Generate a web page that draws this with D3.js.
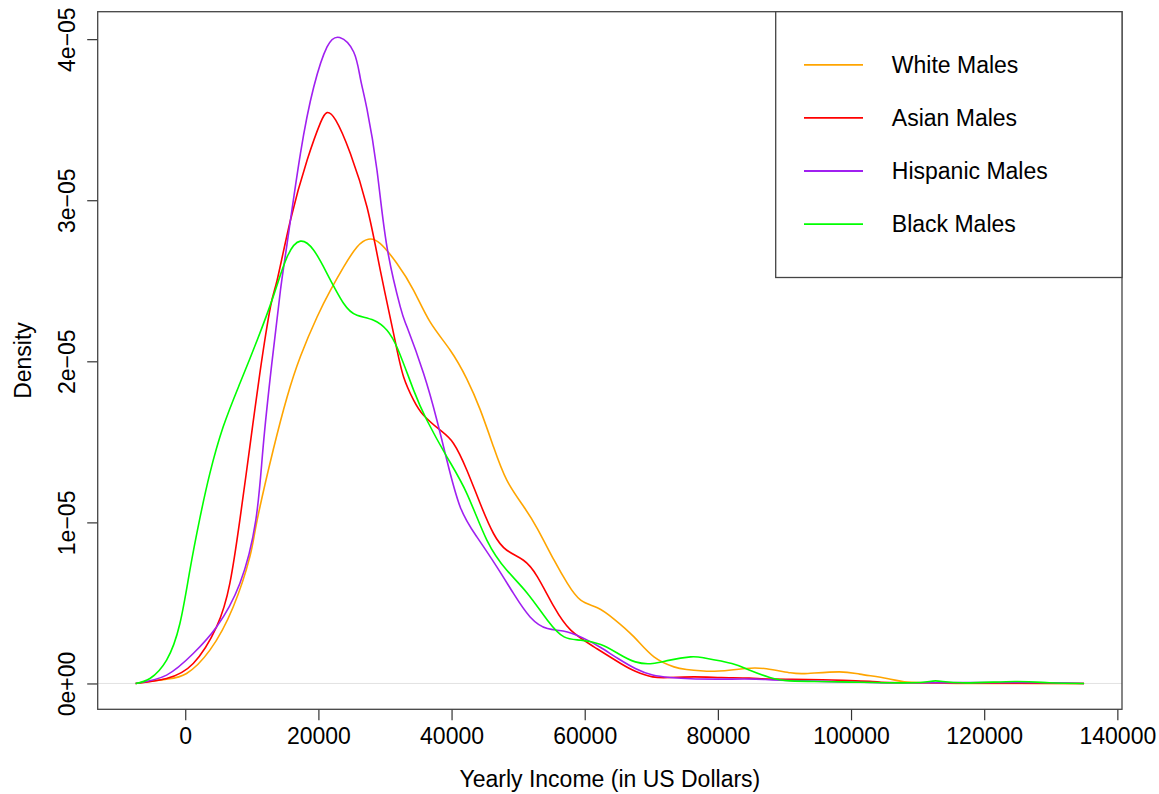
<!DOCTYPE html>
<html>

<head>
    <title>Income density by group</title>
    <style>
        body {
            margin: 0;
            background: #fff;
        }

        text {
            font-family: "Liberation Sans", Arial, Helvetica, sans-serif;
            fill: #000;
        }
    </style>
    <script src="https://d3js.org/d3.v7.min.js"></script>
</head>

<body>
    <script>
        // density values are in units of 1e-06
        const UNIT = 1e-6;

        const seriesNames = ["White Males", "Asian Males", "Hispanic Males", "Black Males"];
        const seriesColors = ["#FFA500", "#FF0000", "#A020F0", "#00FF00"];

        const xTicks = [0, 20000, 40000, 60000, 80000, 100000, 120000, 140000];
        const yTicks = [0, 10, 20, 30, 40];
        const yTickLabels = ["0e+00", "1e\u221205", "2e\u221205", "3e\u221205", "4e\u221205"];

        // [income, density / 1e-06]
        const white = [
            [-7450, 0], [-2800, 0.27], [200, 0.62], [3700, 2.07], [7200, 4.75], [9700, 7.86],
            [10800, 10.14], [13200, 14.48], [15300, 17.79], [17300, 20.3], [19800, 22.75],
            [21800, 24.4], [23800, 25.86], [25800, 27.1], [27500, 27.58], [29300, 27.31],
            [31800, 26.07], [34300, 24.41], [36800, 22.43], [39800, 20.69], [42300, 18.9],
            [44300, 17.0], [46300, 14.69], [48300, 12.62], [50800, 11.0], [52900, 9.6],
            [55400, 7.65], [57400, 6.21], [59400, 5.17], [61900, 4.7], [64400, 4.0],
            [67400, 2.89], [70400, 1.65], [73400, 1.03], [75300, 0.87], [79500, 0.76],
            [84200, 0.93], [87300, 0.91], [90900, 0.66], [93500, 0.62], [98200, 0.72],
            [101300, 0.58], [105400, 0.31], [108000, 0.1], [111600, 0.04], [119400, 0],
            [135000, 0]
        ];

        const asian = [
            [-7450, 0], [-2800, 0.31], [1200, 1.24], [4700, 3.51], [6700, 6.21], [8200, 10.14],
            [9700, 14.69], [11200, 19.24], [12800, 23.38], [13800, 25.03], [15800, 28.76],
            [18300, 32.48], [20300, 34.8], [21300, 35.44], [22600, 34.97], [24800, 32.9],
            [27300, 29.58], [29300, 25.65], [31500, 21.31], [32800, 19.03], [34300, 17.59],
            [35800, 16.65], [38300, 15.72], [40300, 14.9], [42300, 13.24], [44300, 11.17],
            [46300, 9.31], [48300, 8.27], [50800, 7.65], [52900, 6.62], [55400, 4.75],
            [57900, 3.31], [61400, 2.27], [65400, 1.24], [67600, 0.76], [70200, 0.41],
            [72800, 0.37], [76400, 0.41], [80500, 0.37], [84700, 0.33], [88300, 0.27],
            [93500, 0.25], [98700, 0.19], [103900, 0.1], [109000, 0.04], [135000, 0]
        ];

        const hispanic = [
            [-7450, 0], [-2800, 0.52], [1200, 1.86], [4700, 3.51], [8200, 6.21], [10600, 10.14],
            [11700, 14.69], [13000, 19.86], [14300, 24.41], [15300, 27.31],
            [17300, 32.9], [19300, 37.03], [21300, 39.52], [23200, 40.1],
            [25300, 39.2], [26300, 37.57], [27300, 35.65], [28800, 31.86], [30300, 27.1],
            [32300, 23.38], [33300, 22.14], [35800, 19.24], [37800, 16.34], [39300, 13.86],
            [41300, 10.96], [43800, 9.1], [46800, 7.24], [49300, 5.59], [51800, 4.13],
            [54400, 3.41], [57400, 3.2], [60400, 2.69], [62400, 2.23], [65000, 1.55],
            [67600, 0.93], [70200, 0.52], [72800, 0.37], [75900, 0.29], [80500, 0.27],
            [85700, 0.27], [89300, 0.2], [98700, 0.1], [109000, 0.04], [125000, 0.06],
            [135000, 0]
        ];

        const black = [
            [-7450, 0], [-5300, 0.31], [-2800, 1.45], [-800, 3.72], [700, 7.03], [2200, 10.26],
            [3700, 13.04], [5700, 15.93], [8200, 18.62], [10800, 21.31], [13200, 24.0],
            [15300, 26.48], [17300, 27.46], [19300, 26.9], [21300, 25.45], [23800, 23.59],
            [25800, 22.86], [28300, 22.55], [30300, 21.93], [32000, 20.69], [34300, 18.21],
            [36300, 16.34], [39300, 14.07], [42300, 11.79], [45300, 8.9], [48300, 7.03],
            [51400, 5.59], [54400, 3.93], [56900, 2.89], [59400, 2.69], [62400, 2.42],
            [65000, 1.86], [67600, 1.34], [70200, 1.24], [72800, 1.45], [75900, 1.65],
            [77900, 1.59], [82100, 1.24], [84700, 0.83], [87800, 0.37], [90900, 0.16],
            [98700, 0.1], [109000, 0.04], [112700, 0.16], [116800, 0.04], [124600, 0.12],
            [129800, 0.04], [135000, 0]
        ];

        const allSeries = [white, asian, hispanic, black];

        let width = 1159;
        let height = 794;
        let plotLeft = 97.7;
        let plotRight = 1122;
        let plotTop = 11.7;
        let plotBottom = 709.3;

        // R style limits: data range widened by 4% on each side
        let xMin = d3.min(allSeries, s => d3.min(s, d => d[0]));
        let xMax = d3.max(allSeries, s => d3.max(s, d => d[0]));
        let xPad = (xMax - xMin) * 0.04;
        let yMax = d3.max(allSeries, s => d3.max(s, d => d[1])) * UNIT;
        let yPad = yMax * 0.04;

        let x = d3.scaleLinear()
            .domain([xMin - xPad, xMax + xPad])
            .range([plotLeft, plotRight]);
        let y = d3.scaleLinear()
            .domain([-yPad, yMax + yPad])
            .range([plotBottom, plotTop]);

        let svg = d3.select("body")
            .append("svg")
            .attr("width", width)
            .attr("height", height);

        // zero line
        svg.append("line")
            .attr("x1", plotLeft)
            .attr("x2", plotRight)
            .attr("y1", y(0))
            .attr("y2", y(0))
            .style("stroke", "#e2e2e2")
            .style("stroke-width", 1);

        let line = d3.line()
            .x(d => x(d[0]))
            .y(d => y(d[1] * UNIT))
            .curve(d3.curveNatural);

        svg.selectAll(".curve")
            .data(allSeries)
            .enter()
            .append("path")
            .attr("class", "curve")
            .attr("d", line)
            .style("fill", "none")
            .style("stroke", (d, i) => seriesColors[i])
            .style("stroke-width", 1.6);

        // x axis
        let xAxis = d3.axisBottom(x)
            .tickValues(xTicks)
            .tickFormat(d => String(d))
            .tickSize(11)
            .tickPadding(7);
        let gx = svg.append("g")
            .attr("transform", `translate(0, ${plotBottom})`)
            .call(xAxis);
        gx.select(".domain").remove();
        gx.selectAll("line").style("stroke", "#333").style("stroke-width", 1.2);
        gx.selectAll("text")
            .style("font-size", "23px")
            .style("font-family", "'Liberation Sans', Arial, sans-serif");

        // y axis
        let yAxis = d3.axisLeft(y)
            .tickValues(yTicks.map(v => v * UNIT))
            .tickFormat((d, i) => yTickLabels[i])
            .tickSize(10.5);
        let gy = svg.append("g")
            .attr("transform", `translate(${plotLeft}, 0)`)
            .call(yAxis);
        gy.select(".domain").remove();
        gy.selectAll("line").style("stroke", "#333").style("stroke-width", 1.2);
        gy.selectAll("text")
            .attr("x", null)
            .attr("dy", null)
            .attr("text-anchor", "middle")
            .attr("transform", "translate(-23, 0) rotate(-90)")
            .style("font-size", "23px")
            .style("font-family", "'Liberation Sans', Arial, sans-serif");

        // plot frame
        svg.append("rect")
            .attr("x", plotLeft)
            .attr("y", plotTop)
            .attr("width", plotRight - plotLeft)
            .attr("height", plotBottom - plotTop)
            .style("fill", "none")
            .style("stroke", "#444")
            .style("stroke-width", 1.3);

        // axis titles
        svg.append("text")
            .attr("x", (plotLeft + plotRight) / 2)
            .attr("y", 787)
            .attr("text-anchor", "middle")
            .style("font-size", "23px")
            .text("Yearly Income (in US Dollars)");

        svg.append("text")
            .attr("transform", `translate(31, ${(plotTop + plotBottom) / 2}) rotate(-90)`)
            .attr("text-anchor", "middle")
            .style("font-size", "23px")
            .text("Density");

        // legend
        let legend = svg.append("g");
        legend.append("rect")
            .attr("x", 775.7)
            .attr("y", plotTop)
            .attr("width", plotRight - 775.7)
            .attr("height", 277.5 - plotTop)
            .style("fill", "#fff")
            .style("stroke", "#444")
            .style("stroke-width", 1.3);

        let items = legend.selectAll(".item")
            .data(seriesNames)
            .enter()
            .append("g")
            .attr("class", "item")
            .attr("transform", (d, i) => `translate(0, ${64.8 + i * 53.1})`);
        items.append("line")
            .attr("x1", 804)
            .attr("x2", 863)
            .style("stroke", (d, i) => seriesColors[i])
            .style("stroke-width", 1.8);
        items.append("text")
            .attr("x", 891.8)
            .attr("dy", "0.35em")
            .style("font-size", "23px")
            .text(d => d);
    </script>
</body>

</html>
